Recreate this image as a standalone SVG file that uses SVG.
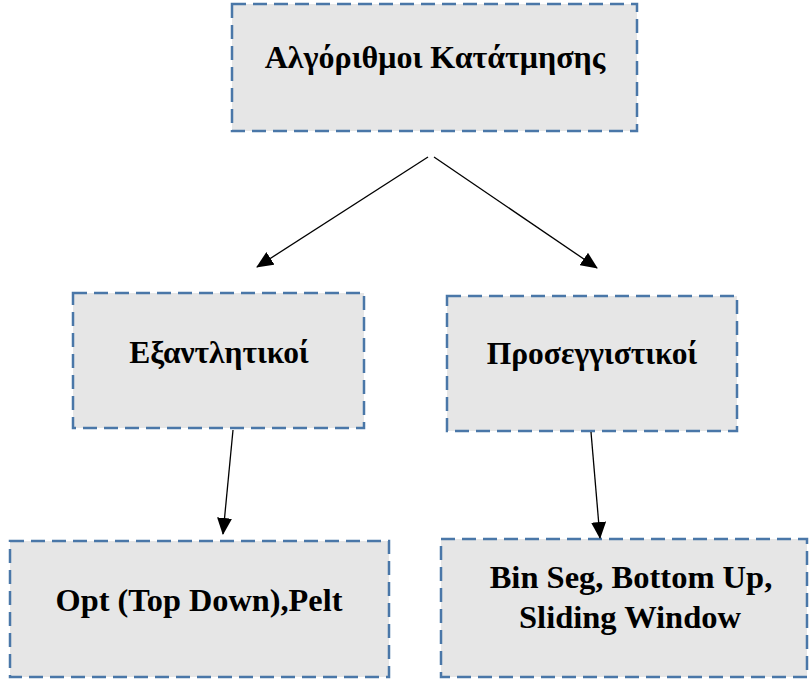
<svg xmlns="http://www.w3.org/2000/svg" width="811" height="681" viewBox="0 0 811 681">
<style>
.box{fill:#e6e6e6;stroke:#4a77a8;stroke-width:2.5;stroke-dasharray:14 7}
.t{font-family:'Liberation Serif','Times New Roman',serif;font-weight:bold;fill:#000;text-anchor:middle}
.c{stroke:#000;stroke-width:1.3;fill:none;marker-end:url(#ah)}
</style>
<defs>
<marker id="ah" markerWidth="17" markerHeight="15" refX="16" refY="7.5" orient="auto" markerUnits="userSpaceOnUse">
<path d="M0,0 L17,7.5 L0,15 Z" fill="#000"/>
</marker>
</defs>
<rect width="811" height="681" fill="#fff"/>
<g id="n-root">
<rect class="box" x="232" y="4" width="405" height="127"/>
<text class="t" x="435" y="68" style="font-size:32px">Αλγόριθμοι Κατάτμησης</text>
</g>
<g id="n-exh">
<rect class="box" x="73" y="293" width="291" height="135"/>
<text class="t" x="219" y="363" style="font-size:31.5px">Εξαντλητικοί</text>
</g>
<g id="n-approx">
<rect class="box" x="447" y="296" width="290" height="135"/>
<text class="t" x="592" y="364" style="font-size:31.5px">Προσεγγιστικοί</text>
</g>
<g id="n-opt">
<rect class="box" x="10" y="541" width="379" height="136"/>
<text class="t" x="199" y="611" style="font-size:32.3px">Opt (Top Down),Pelt</text>
</g>
<g id="n-bin">
<rect class="box" x="441" y="539" width="366" height="138"/>
<text class="t" x="631" y="588" style="font-size:32.5px">Bin Seg, Bottom Up,</text>
<text class="t" x="630" y="628" style="font-size:32.5px">Sliding Window</text>
</g>
<g id="connectors">
<line class="c" x1="428" y1="157" x2="257" y2="267"/>
<line class="c" x1="434" y1="157" x2="597" y2="268"/>
<line class="c" x1="233" y1="430" x2="223" y2="534"/>
<line class="c" x1="591" y1="432" x2="600" y2="538"/>
</g>
</svg>
